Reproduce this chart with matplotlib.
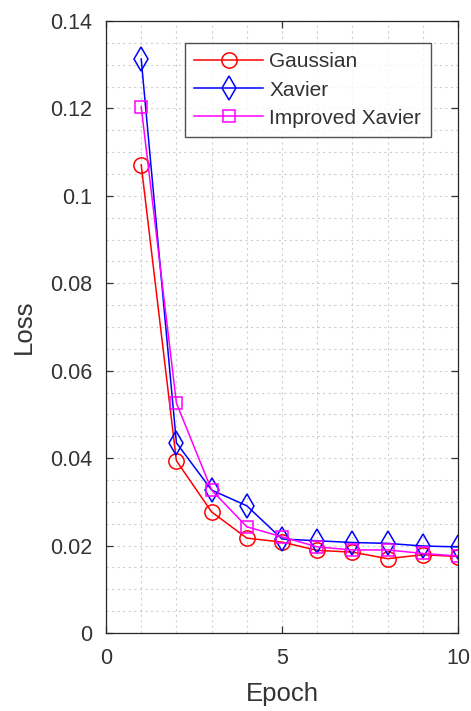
import matplotlib
matplotlib.use("Agg")
import matplotlib.pyplot as plt
from matplotlib.ticker import MultipleLocator

plt.rcParams['font.family'] = ['Liberation Sans', 'DejaVu Sans']

epochs = [1, 2, 3, 4, 5, 6, 7, 8, 9, 10]
gaussian = [0.1071, 0.0394, 0.0277, 0.0217, 0.0208, 0.0189, 0.0185, 0.0170, 0.0179, 0.0175]
xavier = [0.1313, 0.0435, 0.0327, 0.0291, 0.0215, 0.0211, 0.0207, 0.0205, 0.0199, 0.0197]
improved = [0.1204, 0.0526, 0.0327, 0.0243, 0.0220, 0.0197, 0.0190, 0.0190, 0.0182, 0.0176]
labels = ['Gaussian', 'Xavier', 'Improved Xavier']

fig = plt.figure(figsize=(4.71, 7.11), dpi=100)
ax = fig.add_axes([106/471, 1-633/711, (458-106)/471, (633-21)/711])

ax.plot(epochs, gaussian, color='#ff0000', marker='o', ms=11, mfc='none', mew=1.1, lw=1.1, label=labels[0])
ax.plot(epochs, xavier, color='#0000ff', marker='d', ms=12.5, mfc='none', mew=1.1, lw=1.1, label=labels[1])
ax.plot(epochs, improved, color='#ff00ff', marker='s', ms=8, mfc='none', mew=1.1, lw=1.1, label=labels[2])

ax.set_xlim(0, 10)
ax.set_ylim(0, 0.14)
ax.set_xticks([0, 5, 10])
ax.set_xticklabels(['0', '5', '10'])
ax.set_yticks([0, 0.02, 0.04, 0.06, 0.08, 0.1, 0.12, 0.14])
ax.set_yticklabels(['0', '0.02', '0.04', '0.06', '0.08', '0.1', '0.12', '0.14'])
ax.xaxis.set_minor_locator(MultipleLocator(1))
ax.yaxis.set_minor_locator(MultipleLocator(0.005))
ax.grid(True, which='both', linestyle=(0, (2, 3)), color='#cfcfcf', lw=0.8)
ax.set_axisbelow(True)
ax.tick_params(which='major', direction='in', top=True, right=True, length=5, width=0.9,
               labelsize=15.5, colors='#333333')
ax.tick_params(axis='y', which='major', pad=10)
ax.tick_params(axis='x', which='major', pad=11)
ax.tick_params(which='minor', length=0, top=True, right=True)
for s in ax.spines.values():
    s.set_color('#262626')
    s.set_linewidth(0.9)

ax.set_xlabel('Epoch', fontsize=18.5, color='#333333', labelpad=9)
ax.set_ylabel('Loss', fontsize=18.5, color='#333333', labelpad=10)

leg = ax.legend(loc='upper left', bbox_to_anchor=((185-106)/352, 1-(43-21)/612),
                fontsize=15, frameon=True, fancybox=False, edgecolor='#262626',
                handlelength=3.3, borderpad=0.45, labelspacing=0.44, handletextpad=0.3,
                borderaxespad=0)
leg.get_frame().set_linewidth(1.0)
for t in leg.get_texts():
    t.set_color('#333333')

fig.savefig('out.png', dpi=100, facecolor='white')
